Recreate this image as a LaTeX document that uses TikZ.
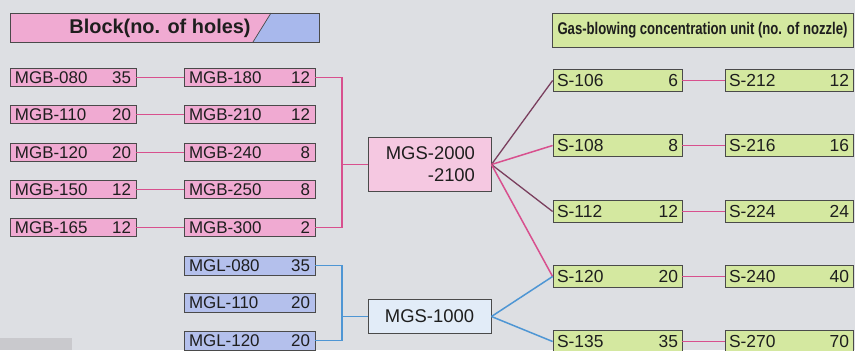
\documentclass[tikz,border=0pt]{standalone}
\usepackage{fontspec}
\setmainfont{Liberation Sans}
\usepackage{graphicx}
\definecolor{bg}{HTML}{DDDFE3}
\definecolor{pinkbox}{HTML}{F0AAD2}
\definecolor{bluebox}{HTML}{B4C0EC}
\definecolor{greenbox}{HTML}{D4E8A0}
\definecolor{pinkbig}{HTML}{F5C8E1}
\definecolor{bluebig}{HTML}{E2ECF8}
\definecolor{hdrblue}{HTML}{A8B8EC}
\definecolor{edge}{HTML}{4A4A4A}
\definecolor{pinkln}{HTML}{D8508E}
\definecolor{darkln}{HTML}{7A3F5E}
\definecolor{blueln}{HTML}{4E96D4}
\definecolor{txt}{HTML}{1E1E1E}
\definecolor{scan}{HTML}{C9C9CD}
\tikzset{
  cell/.style={draw=edge, line width=0.8bp, inner xsep=5bp, inner ysep=0pt,
    font=\fontsize{17}{18}\selectfont, text=txt, anchor=center},
  mgb/.style={cell, fill=pinkbox, minimum height=18bp},
  mgl/.style={cell, fill=bluebox, minimum height=19bp},
  sbox/.style={cell, fill=greenbox, minimum height=22bp, inner xsep=4bp, font=\fontsize{17.5}{18}\selectfont},
  bigbox/.style={draw=edge, line width=0.9bp, text=txt, font=\fontsize{18.5}{22}\selectfont},
  pinkline/.style={draw=pinkln, line width=1.5bp},
  darkline/.style={draw=darkln, line width=1.3bp},
  blueline/.style={draw=blueln, line width=1.5bp}
}
\begin{document}
\begin{tikzpicture}[x=1bp,y=-1bp]
\useasboundingbox (0,0) rectangle (855,350);
\fill[bg] (0,0) rectangle (855,350);
\fill[scan] (0,338) rectangle (72,350);
% left header
\fill[pinkbox] (10,13) -- (271,13) -- (253,42) -- (10,42) -- cycle;
\fill[hdrblue] (271,13) -- (319,13) -- (319,42) -- (253,42) -- cycle;
\draw[edge, line width=0.8bp] (10,13) rectangle (319,42);
\draw[edge, line width=0.7bp] (253,42) -- (271,13);
\node[font=\fontsize{20}{22}\selectfont\bfseries, text=txt] (hl) at (160,28) {Block(no. of holes)};
% right header
\node[draw=edge, line width=0.8bp, fill=greenbox, minimum width=301bp, minimum height=34bp, text=txt] (hr) at (702.5,30)
  {\scalebox{0.775}[1]{\fontsize{17}{18}\selectfont\bfseries Gas-blowing concentration unit (no. of nozzle)}};
% left column
\foreach \n/\lab/\num/\y in {a1/MGB-080/35/77.5, a2/MGB-110/20/114.5, a3/MGB-120/20/152.5, a4/MGB-150/12/189.5, a5/MGB-165/12/227.5}
  \node[mgb, minimum width=126bp, text width=116bp] (\n) at (73,\y) {\lab\hfill\num};
% second column
\foreach \n/\lab/\num/\y in {b1/MGB-180/12/77.5, b2/MGB-210/12/114.5, b3/MGB-240/8/152.5, b4/MGB-250/8/189.5, b5/MGB-300/2/227.5}
  \node[mgb, minimum width=131bp, text width=121bp] (\n) at (249.5,\y) {\lab\hfill\num};
\foreach \n/\lab/\num/\y in {g1/MGL-080/35/265.5, g2/MGL-110/20/302.5, g3/MGL-120/20/340.5}
  \node[mgl, minimum width=131bp, text width=121bp] (\n) at (249.5,\y) {\lab\hfill\num};
% big boxes
\node[bigbox, fill=pinkbig, minimum width=123bp, minimum height=54bp, align=right, text width=91bp] (m2) at (429.5,164.5) {MGS-2000\\-2100};
\node[bigbox, fill=bluebig, minimum width=123bp, minimum height=34bp] (m1) at (429.5,316.5) {MGS-1000};
% S columns
\foreach \n/\lab/\num/\y in {r1/S-106/6/80.5, r2/S-108/8/145.5, r3/S-112/12/211.5, r4/S-120/20/276.5, r5/S-135/35/341.5}
  \node[sbox, minimum width=129bp, text width=121bp] (\n) at (617.5,\y) {\lab\hfill\num};
\foreach \n/\lab/\num/\y in {t1/S-212/12/80.5, t2/S-216/16/145.5, t3/S-224/24/211.5, t4/S-240/40/276.5, t5/S-270/70/341.5}
  \node[sbox, minimum width=128bp, text width=120bp] (\n) at (789,\y) {\lab\hfill\num};
% connectors left
\foreach \i in {1,...,5} \draw[pinkline] (a\i.east) -- (b\i.west);
\draw[pinkline] (b1.east) -- ++(26.5,0) coordinate (pb) |- (b5.east);
\draw[pinkline] (m2.west) -- (m2.west -| pb);
\draw[blueline] (g1.east) -- ++(26.5,0) coordinate (bb) |- (g3.east);
\draw[blueline] (m1.west) -- (m1.west -| bb);
% fan
\draw[darkline] (m2.east) -- (r1.west);
\draw[pinkline] (m2.east) -- (r2.west);
\draw[darkline] (m2.east) -- (r3.west);
\draw[pinkline] (m2.east) -- (r4.west);
\draw[blueline] (m1.east) -- (r4.west);
\draw[blueline] (m1.east) -- (r5.west);
\foreach \i in {1,...,5} \draw[pinkline] (r\i.east) -- (t\i.west);
\end{tikzpicture}
\end{document}
